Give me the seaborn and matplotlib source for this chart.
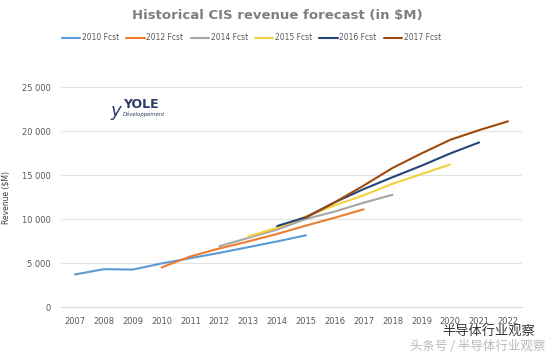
import matplotlib
matplotlib.use("Agg")
import matplotlib.pyplot as plt
import seaborn as sns
import pandas as pd

# values ($M)
years_2010 = [2007, 2008, 2009, 2010, 2011, 2012, 2013, 2014, 2015]
fcst_2010 = [3700, 4300, 4250, 4950, 5550, 6150, 6800, 7450, 8150]

years_2012 = [2010, 2011, 2012, 2013, 2014, 2015, 2016, 2017]
fcst_2012 = [4500, 5750, 6650, 7450, 8300, 9250, 10150, 11100]

years_2014 = [2012, 2013, 2014, 2015, 2016, 2017, 2018]
fcst_2014 = [6900, 7850, 8800, 10000, 10850, 11850, 12750]

years_2015 = [2013, 2014, 2015, 2016, 2017, 2018, 2019, 2020]
fcst_2015 = [8000, 9000, 10300, 11550, 12700, 14000, 15100, 16200]

years_2016 = [2014, 2015, 2016, 2017, 2018, 2019, 2020, 2021]
fcst_2016 = [9200, 10200, 11900, 13400, 14750, 16050, 17450, 18700]

years_2017 = [2015, 2016, 2017, 2018, 2019, 2020, 2021, 2022]
fcst_2017 = [10150, 11900, 13800, 15800, 17450, 19000, 20100, 21100]

series_names = ["2010 Fcst", "2012 Fcst", "2014 Fcst", "2015 Fcst", "2016 Fcst", "2017 Fcst"]
colors = ["#5B9BD5", "#ED7D31", "#A5A5A5", "#F2D13A", "#264478", "#9E480E"]
x_ticks = list(range(2007, 2023))
y_ticks = [0, 5000, 10000, 15000, 20000, 25000]

frames = []
for name, xs, ys in zip(series_names,
                        [years_2010, years_2012, years_2014, years_2015, years_2016, years_2017],
                        [fcst_2010, fcst_2012, fcst_2014, fcst_2015, fcst_2016, fcst_2017]):
    frames.append(pd.DataFrame({"year": xs, "revenue": ys, "series": name}))
df = pd.concat(frames, ignore_index=True)

sns.set_style("white")
plt.rcParams['font.family'] = ['DejaVu Sans', 'Noto Sans CJK SC']

fig = plt.figure(figsize=(5.54, 3.55), dpi=100)
ax = fig.add_axes([0.1094, 0.1352, 0.8336, 0.6197])

sns.lineplot(data=df, x="year", y="revenue", hue="series", hue_order=series_names,
             palette=dict(zip(series_names, colors)), linewidth=1.5, ax=ax)

ax.set_xlim(2006.5, 2022.5)
ax.set_ylim(0, 25000)
ax.set_xticks(x_ticks)
ax.set_xticklabels([str(y) for y in x_ticks], fontsize=6, color="#595959")
ax.set_yticks(y_ticks)
ax.set_yticklabels([f"{v:,}".replace(",", " ") for v in y_ticks], fontsize=6, color="#595959")
ax.tick_params(axis="both", length=0, pad=7)
ax.grid(axis="y", color="#E3E3E3", linewidth=0.8)
ax.set_axisbelow(True)
for s in ["top", "right", "left"]:
    ax.spines[s].set_visible(False)
ax.spines["bottom"].set_color("#D9D9D9")
ax.set_xlabel("")
ax.set_ylabel("Revenue ($M)", fontsize=5.5, color="#404040")
ax.yaxis.set_label_coords(-0.108, 0.5)

handles, labels = ax.get_legend_handles_labels()
ax.legend(handles, labels, ncol=6, loc="center", bbox_to_anchor=(0.454, 0.893),
          bbox_transform=fig.transFigure, frameon=False, fontsize=5.5,
          handlelength=2.4, columnspacing=0.95, handletextpad=0.2,
          labelcolor="#595959")

fig.text(0.5, 0.955, "Historical CIS revenue forecast (in $M)", ha="center", va="center",
         fontsize=9.5, fontweight="bold", color="#7F7F7F")

# YOLE logo as text
fig.text(0.222, 0.705, "YOLE", fontsize=9, fontweight="bold", color="#2B3A67", va="center")
fig.text(0.222, 0.677, "Développement", fontsize=3.8, style="italic", color="#2B3A67", va="center")
fig.text(0.200, 0.688, "y", fontsize=13, color="#2B3A67", va="center", style="italic")

# watermark
fig.text(0.965, 0.064, "半导体行业观察", ha="right", va="center", fontsize=9.5,
         color="#333333", family=["Noto Sans CJK SC", "DejaVu Sans"])
fig.text(0.985, 0.024, "头条号 / 半导体行业观察", ha="right", va="center", fontsize=9,
         color="#BBBBBB", family=["Noto Sans CJK SC", "DejaVu Sans"])

fig.savefig("out.png", dpi=100)
